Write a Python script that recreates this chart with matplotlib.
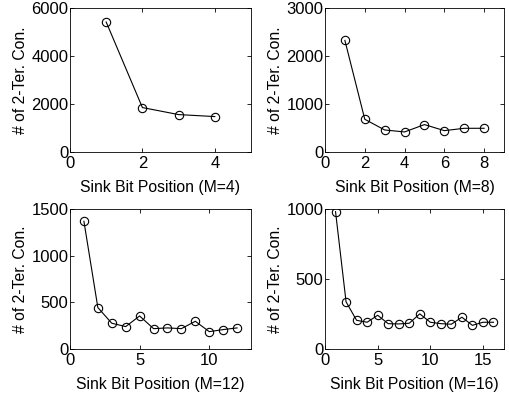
import matplotlib
matplotlib.use("Agg")
import matplotlib.pyplot as plt

plt.rcParams['font.family'] = ['Liberation Sans', 'DejaVu Sans']

# values
y_m4 = [5415, 1852, 1559, 1476]
y_m8 = [2325, 682, 459, 418, 571, 445, 494, 494]
y_m12 = [1368, 444, 276, 240, 354, 218, 226, 218, 297, 186, 208, 226]
y_m16 = [981, 337, 205, 191, 241, 181, 179, 184, 251, 191, 181, 177, 227, 169, 191, 191]

panels = [
    (y_m4, 4, [0, 2, 4], 6000, [0, 2000, 4000, 6000]),
    (y_m8, 8, [0, 2, 4, 6, 8], 3000, [0, 1000, 2000, 3000]),
    (y_m12, 12, [0, 5, 10], 1500, [0, 500, 1000, 1500]),
    (y_m16, 16, [0, 5, 10, 15], 1000, [0, 500, 1000]),
]

W, H = 509, 395
# axes boxes in pixels: left, top, right, bottom
boxes = [
    (70, 8, 251, 152),
    (325, 8, 504, 152),
    (70, 209, 251, 349),
    (325, 209, 504, 349),
]

fig = plt.figure(figsize=(W / 100, H / 100), dpi=100)

for (vals, m, xt, ymax, yt), (l, t, r, b) in zip(panels, boxes):
    ax = fig.add_axes([l / W, 1 - b / H, (r - l) / W, (b - t) / H])
    xs = list(range(1, len(vals) + 1))
    ax.plot(xs, vals, '-o', color='black', lw=0.8, markersize=6,
            markerfacecolor='none', markeredgewidth=0.8)
    ax.set_xlim(0, m + 1)
    ax.set_ylim(0, ymax)
    ax.set_xticks(xt)
    ax.set_yticks(yt)
    ax.tick_params(direction='in', top=True, right=True, labelsize=12,
                   length=3, width=0.6)
    ax.tick_params(axis='x', pad=3)
    ax.tick_params(axis='y', pad=1)
    for s in ax.spines.values():
        s.set_linewidth(0.6)
    ax.set_xlabel('Sink Bit Position (M=%d)' % m, fontsize=11.3, labelpad=6)
    ax.set_ylabel('# of 2-Ter. Con.', fontsize=11.3, labelpad=2.5)

fig.savefig('out.png', dpi=100)
